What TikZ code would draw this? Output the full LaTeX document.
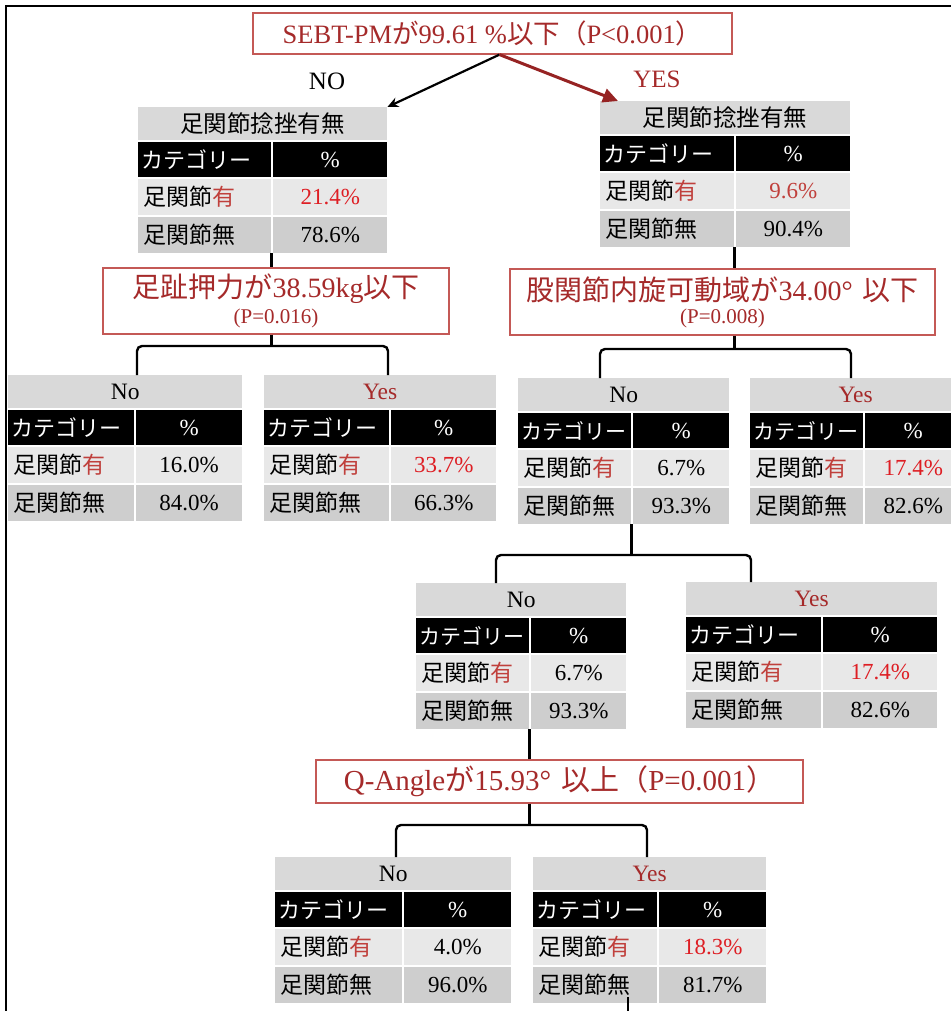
\documentclass[tikz,border=0pt]{standalone}
\usepackage{fontspec}
\setmainfont{Liberation Serif}
\newfontfamily\jp{Noto Sans CJK JP}
\usetikzlibrary{arrows.meta}
\newcommand{\J}[1]{{\jp #1}}
\definecolor{dr}{RGB}{165,42,42}
\definecolor{br}{RGB}{196,89,86}
\definecolor{yr}{RGB}{192,64,60}
\definecolor{pr}{RGB}{222,30,36}
\definecolor{ar}{RGB}{150,35,35}
\definecolor{gT}{RGB}{217,217,217}
\definecolor{gA}{RGB}{232,232,232}
\definecolor{gB}{RGB}{206,206,206}
\tikzset{
  cbase/.style={anchor=north west, inner ysep=0pt, font=\fontsize{23}{26}\selectfont},
  cc/.style={cbase, inner xsep=0pt, align=center},
  cl/.style={cbase, inner xsep=5pt, align=left},
  dec/.style={draw=br, line width=1.2pt, text=dr, inner sep=0pt, align=center},
  conn/.style={line width=2.4pt, rounded corners=5pt},
  arrB/.style={line width=2.2pt, -{Stealth[length=11pt,width=10pt]}},
  arrR/.style={draw=ar, line width=3pt, -{Triangle[length=15pt,width=14pt]}},
  lab/.style={font=\fontsize{25}{28}\selectfont},
}
\newcommand{\ctab}[8]{%
  \pgfmathsetmacro{\ctW}{#4-#2}%
  \pgfmathsetmacro{\ctL}{#3-#2-1}%
  \pgfmathsetmacro{\ctT}{#3-#2-11}%
  \pgfmathsetmacro{\ctHT}{#3-#2-7}%
  \pgfmathsetmacro{\ctR}{#4-#3-1}%
  \pgfmathsetmacro{\ctH}{min(22,(#3-#2-9)/5)}%
  \node[cc, fill=gT, minimum width=\ctW pt, minimum height=33pt, font=\fontsize{23.5}{26}\selectfont] (#1-t) at (#2,#5) {#6};
  \node[cl, fill=black, text=white, inner xsep=3pt, minimum width=\ctL pt, text width=\ctHT pt, minimum height=35pt, font=\fontsize{\ctH}{26}\selectfont] (#1-hl) at (#2,#5+35) {\J{カテゴリー}};
  \node[cc, fill=black, text=white, minimum width=\ctR pt, minimum height=35pt] (#1-hr) at (#3+1,#5+35) {\%};
  \node[cl, fill=gA, minimum width=\ctL pt, text width=\ctT pt, minimum height=36pt] (#1-y) at (#2,#5+72) {\J{足関節}\textcolor{yr}{\J{有}}};
  \node[cc, fill=gA, minimum width=\ctR pt, minimum height=36pt] (#1-yp) at (#3+1,#5+72) {#7};
  \node[cl, fill=gB, minimum width=\ctL pt, text width=\ctT pt, minimum height=36pt] (#1-n) at (#2,#5+110) {\J{足関節無}};
  \node[cc, fill=gB, minimum width=\ctR pt, minimum height=36pt] (#1-np) at (#3+1,#5+110) {#8};
}
\begin{document}
\begin{tikzpicture}[x=1pt,y=-1pt]
\useasboundingbox (0,0) rectangle (950,1011);
\fill[white] (0,0) rectangle (950,1011);
% frame
\draw[line width=2pt] (6,1020) -- (6,6) -- (960,6);

% decision boxes
\node[dec, minimum width=479pt, minimum height=41pt, font=\fontsize{26.5}{30}\selectfont] (d0) at (492.5,33.5)
  {SEBT-PM\J{が}99.61 \%\J{以下（}P<0.001\J{）}};
\node[dec, minimum width=346pt, minimum height=66pt] (d1) at (276,301)
  {{\fontsize{28}{30}\selectfont \J{足趾押力が}38.59kg\J{以下}}\\[5pt]{\fontsize{21}{22}\selectfont (P=0.016)}};
\node[dec, minimum width=425pt, minimum height=66pt] (d2) at (722.5,302)
  {{\fontsize{28}{30}\selectfont \J{股関節内旋可動域が}34.00°\hspace{0.35em}\J{以下}}\\[5pt]{\fontsize{21}{22}\selectfont (P=0.008)}};
\node[dec, minimum width=487pt, minimum height=43pt, font=\fontsize{29}{30}\selectfont] (d3) at (559.5,781.5)
  {Q-Angle\J{が}15.93°\hspace{0.35em}\J{以上（}P=0.001\J{）}};

% labels
\node[lab] (lno) at (327,81) {NO};
\node[lab, text=dr] (lyes) at (657,79) {YES};

% tables
\ctab{ta}{138}{272}{387}{107}{\J{足関節捻挫有無}}{\textcolor{pr}{21.4\%}}{78.6\%}
\ctab{tb}{600}{735}{850}{101}{\J{足関節捻挫有無}}{\textcolor{yr}{9.6\%}}{90.4\%}
\ctab{lno}{8}{135}{242}{375}{No}{16.0\%}{84.0\%}
\ctab{lyes}{264}{390}{496}{375}{\textcolor{dr}{Yes}}{\textcolor{pr}{33.7\%}}{66.3\%}
\ctab{rno}{518}{632}{729}{378}{No}{6.7\%}{93.3\%}
\ctab{ryes}{750}{864}{961}{378}{\textcolor{dr}{Yes}}{\textcolor{pr}{17.4\%}}{82.6\%}
\ctab{mno}{416}{530}{626}{583}{No}{6.7\%}{93.3\%}
\ctab{myes}{686}{822}{937}{582}{\textcolor{dr}{Yes}}{\textcolor{pr}{17.4\%}}{82.6\%}
\ctab{bno}{275}{403}{511}{857}{No}{4.0\%}{96.0\%}
\ctab{byes}{533}{658}{766}{857}{\textcolor{dr}{Yes}}{\textcolor{pr}{18.3\%}}{81.7\%}

% arrows from root
\draw[arrB] ([xshift=7pt]d0.south) -- (ta-t.north east);
\draw[arrR] ([xshift=7pt]d0.south) -- ([xshift=18pt]tb-t.north west);

% connectors
\coordinate (k1a) at (137,346); \coordinate (k1b) at (388,346);
\coordinate (k2a) at (600,349); \coordinate (k2b) at (851,349);
\coordinate (k3a) at (496,555); \coordinate (k3b) at (751,555);
\coordinate (k4a) at (396,825); \coordinate (k4b) at (647,825);
\coordinate (kend) at (628,1016);

\draw[conn] (ta-n.south east) -- (ta-n.south east |- d1.north);
\draw[conn] (tb-n.south east) -- (tb-n.south east |- d2.north);

\draw[conn] (ta-n.south east |- d1.south) -- (ta-n.south east |- k1a);
\draw[conn] (k1a |- lno-t.north) -- (k1a) -- (k1b) -- (k1b |- lyes-t.north);

\draw[conn] (tb-n.south east |- d2.south) -- (tb-n.south east |- k2a);
\draw[conn] (k2a |- rno-t.north) -- (k2a) -- (k2b) -- (k2b |- ryes-t.north);

\draw[conn] (rno-n.south east) -- (rno-n.south east |- k3a);
\draw[conn] (k3a |- mno-t.north) -- (k3a) -- (k3b) -- (k3b |- myes-t.north);

\draw[conn] (mno-n.south east) -- (mno-n.south east |- d3.north);
\draw[conn] (mno-n.south east |- d3.south) -- (mno-n.south east |- k4a);
\draw[conn] (k4a |- bno-t.north) -- (k4a) -- (k4b) -- (k4b |- byes-t.north);

\draw[line width=2pt] (byes-n.south west -| kend) ++(0,-6) -- (kend);
\end{tikzpicture}
\end{document}
